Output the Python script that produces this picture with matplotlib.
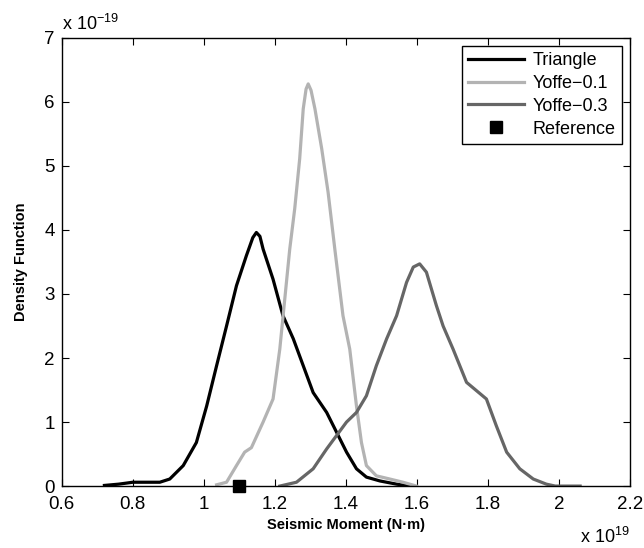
import matplotlib.pyplot as plt

plt.rcParams['font.family'] = ['Liberation Sans', 'DejaVu Sans']

# x in units of 1e19 N.m, y in units of 1e-19
tri_x = [0.72, 0.76, 0.80, 0.84, 0.876, 0.904, 0.942, 0.979, 1.008, 1.036, 1.064, 1.092, 1.12,
         1.138, 1.148, 1.158, 1.167, 1.195, 1.223, 1.252, 1.28, 1.308, 1.346, 1.374, 1.402,
         1.43, 1.458, 1.496, 1.543, 1.58]
tri_y = [0.01, 0.03, 0.06, 0.06, 0.06, 0.11, 0.32, 0.68, 1.25, 1.88, 2.5, 3.13, 3.6,
         3.88, 3.96, 3.9, 3.7, 3.23, 2.66, 2.3, 1.88, 1.46, 1.15, 0.84, 0.53,
         0.27, 0.14, 0.08, 0.03, 0.0]

y1_x = [1.036, 1.064, 1.092, 1.115, 1.134, 1.167, 1.195, 1.214, 1.228, 1.242, 1.256, 1.27,
        1.28, 1.288, 1.294, 1.302, 1.313, 1.332, 1.35, 1.369, 1.392, 1.411, 1.43, 1.444,
        1.458, 1.486, 1.524, 1.561, 1.599]
y1_y = [0.02, 0.06, 0.32, 0.53, 0.6, 1.0, 1.36, 2.14, 2.92, 3.7, 4.33, 5.11,
        5.89, 6.2, 6.28, 6.18, 5.89, 5.27, 4.59, 3.7, 2.66, 2.14, 1.25, 0.68,
        0.32, 0.16, 0.11, 0.06, 0.0]

y3_x = [1.214, 1.261, 1.308, 1.346, 1.374, 1.402, 1.43, 1.458, 1.486, 1.515, 1.543, 1.571,
        1.59, 1.608, 1.627, 1.655, 1.674, 1.702, 1.74, 1.768, 1.796, 1.824, 1.853, 1.89,
        1.928, 1.965, 1.99, 2.06]
y3_y = [0.0, 0.06, 0.27, 0.58, 0.79, 1.0, 1.15, 1.41, 1.88, 2.3, 2.66, 3.18,
        3.42, 3.47, 3.34, 2.82, 2.5, 2.14, 1.62, 1.49, 1.36, 0.94, 0.53, 0.27,
        0.11, 0.03, 0.0, 0.0]

ref_x = [1.1]
ref_y = [0.0]

fig = plt.figure(figsize=(6.44, 5.48), dpi=100)
ax = fig.add_axes([0.096, 0.113, 0.882, 0.818])

ax.plot(tri_x, tri_y, color='black', lw=2.3, label='Triangle', solid_joinstyle='round')
ax.plot(y1_x, y1_y, color='#b3b3b3', lw=2.3, label='Yoffe\u22120.1', solid_joinstyle='round')
ax.plot(y3_x, y3_y, color='#666666', lw=2.3, label='Yoffe\u22120.3', solid_joinstyle='round')
ax.plot(ref_x, ref_y, 's', color='black', ms=9, clip_on=False, label='Reference', zorder=5)

ax.set_xlim(0.6, 2.2)
ax.set_ylim(0, 7)
ax.set_xticks([0.6, 0.8, 1.0, 1.2, 1.4, 1.6, 1.8, 2.0, 2.2])
ax.set_xticklabels(['0.6', '0.8', '1', '1.2', '1.4', '1.6', '1.8', '2', '2.2'])
ax.set_yticks(range(0, 8))
ax.tick_params(direction='in', top=True, right=True, labelsize=13.5, length=5, width=0.8)
ax.tick_params(axis='x', pad=7)
ax.tick_params(axis='y', pad=5)
for s in ax.spines.values():
    s.set_linewidth(1.0)

ax.set_xlabel('Seismic Moment (N\u00b7m)', fontsize=10.5, fontweight='bold', labelpad=4)
ax.set_ylabel('Density Function', fontsize=10.5, fontweight='bold', labelpad=12)

ax.text(0.0, 1.008, r'x 10$^{\mathregular{-19}}$', transform=ax.transAxes, fontsize=13,
        ha='left', va='bottom')
ax.text(1.0, -0.127, r'x 10$^{\mathregular{19}}$', transform=ax.transAxes, fontsize=13,
        ha='right', va='baseline')

leg = ax.legend(loc='upper right', fontsize=13, fancybox=False, framealpha=1,
                edgecolor='black', borderpad=0.35, labelspacing=0.32, handlelength=3.1,
                handletextpad=0.45, borderaxespad=0.45)
leg.get_frame().set_linewidth(1.0)

fig.savefig('out.png', dpi=100)
